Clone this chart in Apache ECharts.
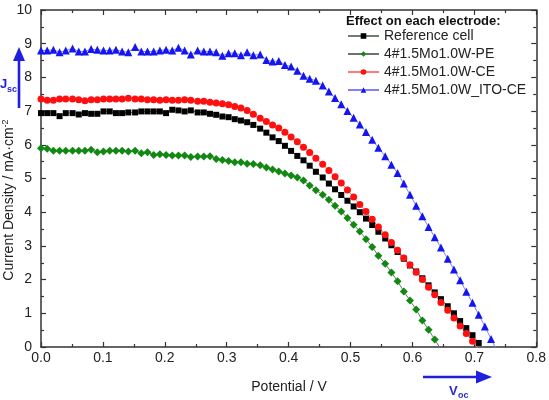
<!DOCTYPE html>
<html>
<head>
<meta charset="utf-8">
<script src="https://cdn.jsdelivr.net/npm/echarts@6/dist/echarts.min.js"></script>
<style>html,body{margin:0;padding:0;background:#fff}#c{width:549px;height:400px}</style>
</head>
<body>
<div id="c"></div>
<script>
// Potential (V) sample points shared by all curves
var potential = [0.000,0.010,0.020,0.030,0.040,0.051,0.061,0.071,0.081,0.091,
  0.101,0.111,0.121,0.131,0.141,0.152,0.162,0.172,0.182,0.192,
  0.202,0.212,0.222,0.232,0.242,0.253,0.263,0.273,0.283,0.293,
  0.303,0.313,0.323,0.333,0.343,0.354,0.364,0.374,0.384,0.394,
  0.404,0.414,0.424,0.434,0.444,0.455,0.465,0.475,0.485,0.495,
  0.505,0.515,0.525,0.535,0.545,0.556,0.566,0.576,0.586,0.596,
  0.606,0.616,0.626,0.636,0.646,0.657,0.667,0.677,0.687,0.697,
  0.707,0.717,0.727,0.737];

var refCell = [6.94,6.94,6.94,6.85,6.94,6.94,6.90,6.94,6.92,6.92,
  6.99,6.99,6.94,6.94,6.96,6.96,6.99,6.99,6.99,6.99,
  6.94,7.04,7.02,6.99,7.02,6.96,6.96,6.92,6.89,6.84,
  6.82,6.76,6.72,6.67,6.59,6.48,6.36,6.22,6.11,5.97,
  5.82,5.67,5.54,5.38,5.20,5.03,4.85,4.68,4.51,4.34,
  4.17,4.00,3.81,3.62,3.42,3.22,3.02,2.82,2.62,2.42,
  2.24,2.04,1.83,1.62,1.42,1.21,1.00,0.77,0.56,0.35,
  0.12,-0.10];

var pe = [5.90,5.88,5.82,5.82,5.82,5.82,5.82,5.82,5.85,5.78,
  5.80,5.82,5.82,5.82,5.80,5.82,5.75,5.78,5.70,5.72,
  5.70,5.68,5.68,5.68,5.64,5.65,5.65,5.66,5.58,5.55,
  5.52,5.48,5.48,5.44,5.43,5.39,5.33,5.27,5.21,5.15,
  5.09,5.03,4.94,4.79,4.65,4.52,4.37,4.19,4.02,3.83,
  3.63,3.43,3.20,2.97,2.71,2.47,2.21,1.95,1.65,1.38,
  1.11,0.79,0.51,0.22,-0.07];

var ce = [7.36,7.32,7.32,7.36,7.36,7.36,7.34,7.31,7.34,7.34,
  7.36,7.36,7.36,7.36,7.38,7.36,7.36,7.34,7.34,7.32,
  7.34,7.32,7.32,7.34,7.32,7.29,7.29,7.26,7.24,7.22,
  7.19,7.14,7.09,7.02,6.91,6.79,6.69,6.59,6.50,6.37,
  6.23,6.09,5.93,5.77,5.60,5.42,5.24,5.05,4.87,4.66,
  4.45,4.23,4.02,3.79,3.56,3.33,3.10,2.87,2.64,2.44,
  2.22,2.00,1.77,1.55,1.32,1.09,0.86,0.62,0.40,0.17,
  -0.06];

var itoCe = [8.80,8.80,8.82,8.75,8.80,8.86,8.77,8.77,8.84,8.82,
  8.80,8.80,8.82,8.77,8.75,8.90,8.77,8.77,8.77,8.80,
  8.82,8.80,8.88,8.80,8.68,8.80,8.77,8.77,8.75,8.64,
  8.72,8.72,8.66,8.75,8.66,8.68,8.52,8.47,8.49,8.37,
  8.32,8.20,8.05,7.96,7.90,7.76,7.58,7.39,7.20,7.00,
  6.80,6.60,6.38,6.15,5.91,5.66,5.41,5.16,4.85,4.52,
  4.19,3.88,3.56,3.26,2.95,2.62,2.30,1.98,1.64,1.31,
  0.96,0.61,0.24,-0.13];

var seriesNames = ['Reference cell','4#1.5Mo1.0W-PE','4#1.5Mo1.0W-CE','4#1.5Mo1.0W_ITO-CE'];
var xTicks = {min:0, max:0.8, step:0.1};
var yTicks = {min:0, max:10, step:1};

function pairs(arr){ return arr.map(function(v,i){ return [potential[i], v]; }); }

var FONT = "Arial, 'Liberation Sans', sans-serif";
var AX = '#333';
var BLUE = '#1f1fe0';

function axisCommon(){
  return {
    axisLine:{show:true,onZero:false,lineStyle:{color:AX,width:1.5}},
    axisTick:{show:true,inside:true,length:5,lineStyle:{color:AX,width:1.2}},
    minorTick:{show:true,splitNumber:2,length:3,lineStyle:{color:AX,width:1.2}},
    splitLine:{show:false}
  };
}

var chart = echarts.init(document.getElementById('c'), null, {renderer:'canvas'});
var xa0 = Object.assign(axisCommon(), {type:'value', position:'bottom', min:xTicks.min, max:xTicks.max, interval:xTicks.step,
  axisLabel:{margin:4, color:'#222', fontSize:14, fontFamily:FONT, formatter:function(v){return v.toFixed(1);}}});
var xa1 = Object.assign(axisCommon(), {type:'value', position:'top', min:xTicks.min, max:xTicks.max, interval:xTicks.step, axisLabel:{show:false}});
var ya0 = Object.assign(axisCommon(), {type:'value', position:'left', min:yTicks.min, max:yTicks.max, interval:yTicks.step,
  axisLabel:{margin:9, color:'#222', fontSize:14, fontFamily:FONT}});
var ya1 = Object.assign(axisCommon(), {type:'value', position:'right', min:yTicks.min, max:yTicks.max, interval:yTicks.step, axisLabel:{show:false}});

function mkSeries(name, arr, symbol, size, color, lineColor){
  return {name:name, type:'line', data:pairs(arr), xAxisIndex:0, yAxisIndex:0,
    symbol:symbol, symbolSize:size, showAllSymbol:true, clip:true,
    itemStyle:{color:color, borderWidth:0},
    lineStyle:{color:lineColor, width:1},
    emphasis:{disabled:true}};
}

chart.setOption({
  animation:false,
  textStyle:{fontFamily:FONT},
  grid:{left:41, right:11, top:10, bottom:53, containLabel:false},
  xAxis:[xa0, xa1],
  yAxis:[ya0, ya1],
  legend:{
    orient:'vertical', left:347, top:29, padding:0, itemWidth:31, itemHeight:7, itemGap:4,
    textStyle:{fontSize:14, color:'#222', fontFamily:FONT},
    data:seriesNames
  },
  series:[
    mkSeries(seriesNames[0], refCell, 'rect', 6, '#000000', '#6f7f6f'),
    mkSeries(seriesNames[1], pe, 'diamond', 8, '#118811', '#6a756a'),
    mkSeries(seriesNames[2], ce, 'circle', 7, '#ff1010', '#ff7a7a'),
    mkSeries(seriesNames[3], itoCe, 'triangle', 8, '#1515f0', '#8080ff')
  ],
  graphic:[
    {type:'text', left:346, top:15, style:{text:'Effect on each electrode:', font:'bold 13px '+FONT, fill:'#111'}},
    {type:'text', x:9, y:200, rotation:Math.PI/2,
      style:{text:'{a|Current Density / mA·cm}{s|-2}', align:'center', verticalAlign:'middle',
        rich:{a:{fontSize:14, fontFamily:FONT, fill:'#222', lineHeight:16},
              s:{fontSize:9, fontFamily:FONT, fill:'#222', verticalAlign:'top', lineHeight:16}}}},
    {type:'text', x:289, y:387, style:{text:'Potential / V', align:'center', verticalAlign:'middle', font:'14px '+FONT, fill:'#222'}},
    // Jsc arrow
    {type:'line', shape:{x1:19, y1:108, x2:19, y2:58}, style:{stroke:BLUE, lineWidth:2.6}},
    {type:'polygon', shape:{points:[[13,61],[25,61],[19,47]]}, style:{fill:BLUE}},
    {type:'text', x:0, y:84, style:{text:'J', verticalAlign:'middle', font:'bold 13px '+FONT, fill:BLUE}},
    {type:'text', x:7, y:90, style:{text:'sc', verticalAlign:'middle', font:'bold 9px '+FONT, fill:BLUE}},
    // Voc arrow
    {type:'line', shape:{x1:423, y1:377, x2:478, y2:377}, style:{stroke:BLUE, lineWidth:2.6}},
    {type:'polygon', shape:{points:[[476,370.5],[476,383.5],[492,377]]}, style:{fill:BLUE}},
    {type:'text', x:449, y:391, style:{text:'V', verticalAlign:'middle', font:'bold 13px '+FONT, fill:'#2a2ad0'}},
    {type:'text', x:458, y:396, style:{text:'oc', verticalAlign:'middle', font:'bold 9px '+FONT, fill:'#2a2ad0'}}
  ]
});
</script>
</body>
</html>
